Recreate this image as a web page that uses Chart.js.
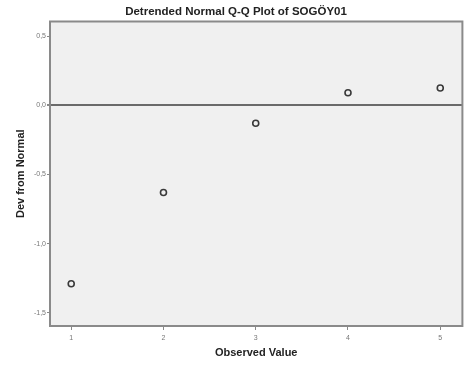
<!DOCTYPE html>
<html><head><meta charset="utf-8">
<script src="https://cdn.jsdelivr.net/npm/chart.js@4"></script>
<style>html,body{margin:0;padding:0;background:#fff;}#c{display:block;}</style>
</head><body>
<canvas id="c" width="468" height="369"></canvas>
<script>
const observedValues = [1, 2, 3, 4, 5];
const devFromNormal = [-1.29, -0.63, -0.13, 0.09, 0.125];
const yTickValues = [0.5, 0.0, -0.5, -1.0, -1.5];
const xTickValues = [1, 2, 3, 4, 5];
const titleText = 'Detrended Normal Q-Q Plot of SOGÖY01';
const xTitle = 'Observed Value';
const yTitle = 'Dev from Normal';

const points = observedValues.map((x, i) => ({x: x, y: devFromNormal[i]}));

const frame = {
  id: 'frame',
  beforeDatasetsDraw(chart) {
    const a = chart.chartArea, ctx = chart.ctx;
    ctx.save();
    ctx.strokeStyle = '#8a8a8a';
    ctx.lineWidth = 2;
    ctx.strokeRect(a.left, a.top, a.right - a.left, a.bottom - a.top);
    ctx.restore();
  }
};

new Chart(document.getElementById('c'), {
  type: 'scatter',
  data: { datasets: [{
    data: points,
    pointRadius: 3,
    pointBorderWidth: 1.6,
    pointBorderColor: '#3a3a3a',
    pointBackgroundColor: 'rgba(0,0,0,0)'
  }]},
  options: {
    responsive: false,
    animation: false,
    layout: { padding: { left: 7, right: 3, top: 0, bottom: 9 } },
    plugins: {
      legend: { display: false },
      tooltip: { enabled: false },
      title: {
        display: true, text: titleText, color: '#222',
        font: { family: 'Arial, "Liberation Sans", sans-serif', size: 11.5, weight: 'bold' },
        padding: { top: 4.6, bottom: 3.1 }
      }
    },
    scales: {
      x: {
        type: 'linear', min: 0.77, max: 5.24,
        afterFit(s) { s.height = 34; },
        afterBuildTicks(s) { s.ticks = xTickValues.map(v => ({value: v})); },
        ticks: { color: '#777', font: { family: 'Arial, "Liberation Sans", sans-serif', size: 7 }, padding: 4, maxRotation: 0 },
        grid: { drawOnChartArea: false, tickLength: 4, tickColor: '#888', color: '#888' },
        border: { display: false },
        title: { display: true, text: xTitle, color: '#222',
          font: { family: 'Arial, "Liberation Sans", sans-serif', size: 11, weight: 'bold' }, padding: { top: 4, bottom: 0 } }
      },
      y: {
        type: 'linear', min: -1.595, max: 0.605,
        afterFit(s) { s.width = 43; },
        afterBuildTicks(s) { s.ticks = yTickValues.map(v => ({value: v})); },
        ticks: { color: '#777', font: { family: 'Arial, "Liberation Sans", sans-serif', size: 7 }, padding: 1,
          callback: v => v.toFixed(1).replace('.', ',') },
        grid: {
          drawOnChartArea: true, tickLength: 3, tickColor: '#888',
          color: c => (c.tick && c.tick.value === 0) ? '#6a6a6a' : 'rgba(0,0,0,0)',
          lineWidth: c => (c.tick && c.tick.value === 0) ? 2 : 1
        },
        border: { display: false },
        title: { display: true, text: yTitle, color: '#222',
          font: { family: 'Arial, "Liberation Sans", sans-serif', size: 11, weight: 'bold' }, padding: { top: 7, bottom: 2 } }
      }
    }
  },
  plugins: [{
    id: 'bg',
    beforeDraw(chart) {
      const a = chart.chartArea, ctx = chart.ctx;
      ctx.save();
      ctx.fillStyle = '#f0f0f0';
      ctx.fillRect(a.left, a.top, a.right - a.left, a.bottom - a.top);
      ctx.restore();
    }
  }, frame]
});
</script>
</body></html>
